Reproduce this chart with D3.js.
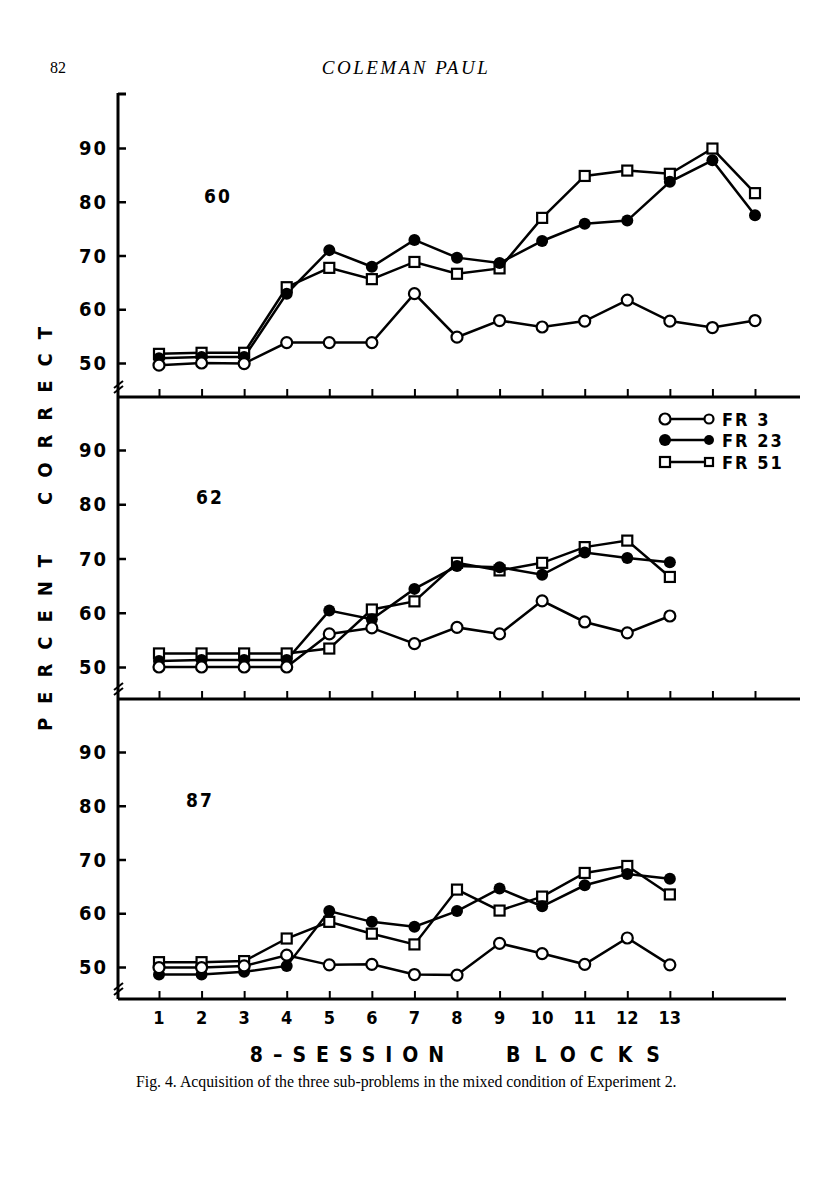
<!DOCTYPE html>
<html>
<head>
<meta charset="utf-8">
<script src="https://cdn.jsdelivr.net/npm/d3@7"></script>
<style>
  body { margin: 0; background: #fff; }
  svg { display: block; }
</style>
</head>
<body>
<div id="container"></div>
<script>
// blocks 1..15 (top panel has 15, the others 13)
const blocks15 = [1,2,3,4,5,6,7,8,9,10,11,12,13,14,15];
const blocks13 = [1,2,3,4,5,6,7,8,9,10,11,12,13];
const yTicks = [50, 60, 70, 80, 90];
const seriesNames = ["FR 3", "FR 23", "FR 51"];
const panelLabels = ["60", "62", "87"];

// panel "60"
const fr3_60  = [49.6, 50.0, 49.9, 53.8, 53.8, 53.8, 62.9, 54.8, 57.9, 56.7, 57.8, 61.7, 57.8, 56.6, 57.9];
const fr23_60 = [50.9, 51.1, 51.1, 62.9, 71.0, 67.9, 72.9, 69.6, 68.6, 72.7, 75.9, 76.5, 83.7, 87.7, 77.5];
const fr51_60 = [51.7, 51.9, 51.9, 64.1, 67.7, 65.6, 68.8, 66.6, 67.6, 77.0, 84.8, 85.8, 85.2, 89.9, 81.6];

// panel "62"
const fr3_62  = [50.0, 50.0, 50.0, 50.0, 56.1, 57.2, 54.3, 57.3, 56.1, 62.2, 58.3, 56.3, 59.4];
const fr23_62 = [51.1, 51.3, 51.3, 51.3, 60.4, 58.8, 64.4, 68.6, 68.4, 67.0, 71.1, 70.1, 69.3];
const fr51_62 = [52.5, 52.5, 52.5, 52.5, 53.4, 60.6, 62.1, 69.2, 67.8, 69.2, 72.1, 73.3, 66.6];

// panel "87"
const fr3_87  = [49.9, 49.9, 50.2, 52.2, 50.4, 50.5, 48.6, 48.5, 54.4, 52.5, 50.5, 55.4, 50.4];
const fr23_87 = [48.6, 48.6, 49.1, 50.2, 60.4, 58.4, 57.5, 60.4, 64.6, 61.3, 65.2, 67.3, 66.4];
const fr51_87 = [50.9, 50.9, 51.1, 55.3, 58.4, 56.2, 54.2, 64.4, 60.5, 63.1, 67.5, 68.8, 63.5];

const width = 816;
const height = 1200;
const axisX = 118;
const numFont = "'Liberation Sans Narrow', 'DejaVu Sans Condensed', 'Liberation Sans', sans-serif";
const serif = "'Liberation Serif', 'DejaVu Serif', serif";

const svg = d3.select("#container")
    .append("svg")
    .attr("width", width)
    .attr("height", height);

const x = d3.scaleLinear().domain([1, 15]).range([159, 755]);

// layout of the three stacked panels
const panels = [
    {label: panelLabels[0], blocks: blocks15, data: [fr3_60, fr23_60, fr51_60], base: 397, y50: 363, y90: 148, lineEnd: 800, nTicks: 15, labelX: 204, labelY: 203},
    {label: panelLabels[1], blocks: blocks13, data: [fr3_62, fr23_62, fr51_62], base: 699, y50: 667, y90: 450, lineEnd: 800, nTicks: 15, labelX: 196, labelY: 504},
    {label: panelLabels[2], blocks: blocks13, data: [fr3_87, fr23_87, fr51_87], base: 999, y50: 967, y90: 752, lineEnd: 786, nTicks: 14, labelX: 186, labelY: 807}
];

//header
svg.append("text").attr("x", 50).attr("y", 73)
    .attr("font-family", serif).attr("font-size", 16).text("82");
svg.append("text").attr("x", 406).attr("y", 74).attr("text-anchor", "middle")
    .attr("font-family", serif).attr("font-style", "italic").attr("font-size", 19)
    .attr("letter-spacing", 2.5).text("COLEMAN PAUL");

//vertical axis
svg.append("line")
    .attr("x1", axisX).attr("x2", axisX)
    .attr("y1", 93).attr("y2", 999)
    .attr("stroke", "black").attr("stroke-width", 3);
svg.append("line")
    .attr("x1", axisX).attr("x2", axisX + 8)
    .attr("y1", 94).attr("y2", 94)
    .attr("stroke", "black").attr("stroke-width", 3);

function drawMarker(g, kind, cx, cy, size) {
    if (kind === 0) {
        g.append("circle").attr("cx", cx).attr("cy", cy).attr("r", size)
            .attr("fill", "white").attr("stroke", "black").attr("stroke-width", 2.2);
    } else if (kind === 1) {
        g.append("circle").attr("cx", cx).attr("cy", cy).attr("r", size + 0.5)
            .attr("fill", "black");
    } else {
        g.append("rect").attr("x", cx - size + 0.5).attr("y", cy - size + 0.5)
            .attr("width", 2 * size - 1).attr("height", 2 * size - 1)
            .attr("fill", "white").attr("stroke", "black").attr("stroke-width", 2.2);
    }
}

panels.forEach(p => {
    const y = d3.scaleLinear().domain([50, 90]).range([p.y50, p.y90]);
    const g = svg.append("g");

    //baseline
    g.append("line")
        .attr("x1", axisX).attr("x2", p.lineEnd)
        .attr("y1", p.base).attr("y2", p.base)
        .attr("stroke", "black").attr("stroke-width", 3);

    //x ticks pointing up
    const xt = d3.range(1, p.nTicks + 1);
    g.append("g")
        .attr("transform", `translate(0,${p.base})`)
        .call(d3.axisTop(x).tickValues(xt).tickSize(8).tickFormat(""))
        .call(a => a.select(".domain").remove())
        .call(a => a.selectAll("line").attr("stroke-width", 2));

    //y ticks to the right of the axis, labels to the left
    g.append("g")
        .attr("transform", `translate(${axisX},0)`)
        .call(d3.axisRight(y).tickValues(yTicks).tickSize(8).tickFormat(""))
        .call(a => a.select(".domain").remove())
        .call(a => a.selectAll("line").attr("stroke-width", 2.5));
    yTicks.forEach(v => {
        g.append("text")
            .attr("x", 108).attr("y", y(v) + 7)
            .attr("text-anchor", "end")
            .attr("font-family", numFont).attr("font-weight", "bold")
            .attr("font-size", 20).attr("letter-spacing", 2)
            .text(v);
    });

    //axis break mark
    const by = p.base - 12;
    [0, 5].forEach(off => {
        g.append("line")
            .attr("x1", axisX - 4).attr("y1", by + off + 3)
            .attr("x2", axisX + 5).attr("y2", by + off - 4)
            .attr("stroke", "black").attr("stroke-width", 2);
    });

    //panel label
    g.append("text")
        .attr("x", p.labelX).attr("y", p.labelY)
        .attr("font-family", numFont).attr("font-weight", "bold")
        .attr("font-size", 19).attr("letter-spacing", 2)
        .text(p.label);

    //series lines
    const line = d3.line().x((d, i) => x(p.blocks[i])).y(d => y(d));
    p.data.forEach(vals => {
        g.append("path")
            .datum(vals)
            .attr("d", line)
            .attr("fill", "none")
            .attr("stroke", "black")
            .attr("stroke-width", 2.5);
    });
    //markers: squares, then filled, then open circles on top
    [2, 1, 0].forEach(k => {
        p.data[k].forEach((v, i) => drawMarker(g, k, x(p.blocks[i]), y(v), 5.5));
    });
});

//legend in the middle panel
const legendY = [419, 440, 462];
seriesNames.forEach((name, k) => {
    const ly = legendY[k];
    svg.append("line")
        .attr("x1", 665).attr("x2", 709)
        .attr("y1", ly).attr("y2", ly)
        .attr("stroke", "black").attr("stroke-width", 2.5);
    drawMarker(svg, k, 665, ly, 5.5);
    drawMarker(svg, k, 709, ly, 4.5);
    svg.append("text")
        .attr("x", 722).attr("y", ly + 7)
        .attr("font-family", numFont).attr("font-weight", "bold")
        .attr("font-size", 18).attr("letter-spacing", 2)
        .text(name);
});

//x tick labels
blocks13.forEach(b => {
    svg.append("text")
        .attr("x", x(b)).attr("y", 1024)
        .attr("text-anchor", "middle")
        .attr("font-family", numFont).attr("font-weight", "bold")
        .attr("font-size", 18)
        .text(b);
});

//x axis title
svg.append("text").attr("x", 352).attr("y", 1062).attr("text-anchor", "middle")
    .attr("font-family", numFont).attr("font-weight", "bold")
    .attr("font-size", 21).attr("letter-spacing", 10)
    .text("8–SESSION");
svg.append("text").attr("x", 590).attr("y", 1062).attr("text-anchor", "middle")
    .attr("font-family", numFont).attr("font-weight", "bold")
    .attr("font-size", 21).attr("letter-spacing", 14)
    .text("BLOCKS");

//y axis title
svg.append("text")
    .attr("transform", "translate(52,636) rotate(-90)")
    .attr("text-anchor", "middle")
    .attr("font-family", numFont).attr("font-weight", "bold")
    .attr("font-size", 20).attr("letter-spacing", 14)
    .text("PERCENT");
svg.append("text")
    .attr("transform", "translate(52,409) rotate(-90)")
    .attr("text-anchor", "middle")
    .attr("font-family", numFont).attr("font-weight", "bold")
    .attr("font-size", 20).attr("letter-spacing", 14)
    .text("CORRECT");

//caption
svg.append("text").attr("x", 136).attr("y", 1087)
    .attr("font-family", serif).attr("font-size", 15.8)
    .text("Fig. 4. Acquisition of the three sub-problems in the mixed condition of Experiment 2.");
</script>
</body>
</html>
